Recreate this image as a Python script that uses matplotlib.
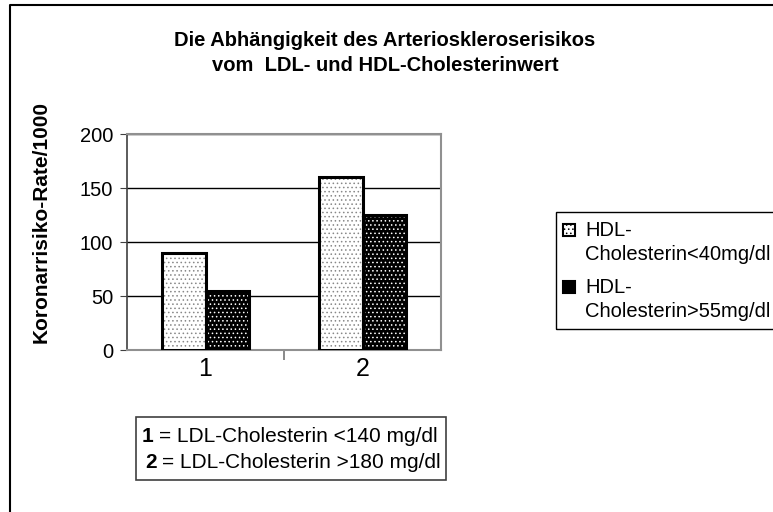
import matplotlib
matplotlib.use("Agg")
import matplotlib.pyplot as plt
from matplotlib.patches import Rectangle
from matplotlib.lines import Line2D

plt.rcParams['font.family'] = ['Liberation Sans', 'DejaVu Sans']
plt.rcParams['hatch.linewidth'] = 0.6

categories = [1, 2]
cat_labels = ['1', '2']
series_names = ['HDL-\nCholesterin<40mg/dl', 'HDL-\nCholesterin>55mg/dl']
low_hdl = [90, 160]
high_hdl = [55, 125]
yticks = [0, 50, 100, 150, 200]
title = 'Die Abhängigkeit des Arterioskleroserisikos\nvom  LDL- und HDL-Cholesterinwert'
ylabel = 'Koronarrisiko-Rate/1000'
note_digits = ['1', '2']
note_texts = ['= LDL-Cholesterin <140 mg/dl', '= LDL-Cholesterin >180 mg/dl']

W, H = 773, 512
fig = plt.figure(figsize=(W / 100, H / 100), dpi=100)
ax = fig.add_axes([127 / W, 1 - 350 / H, 314 / W, 216 / H])

width = 0.28
styles = [('white', '#888888', '....'), ('black', 'white', '....')]
for i, vals in enumerate([low_hdl, high_hdl]):
    xs = [c + (i - 0.5) * width for c in categories]
    face, hcol, hatch = styles[i]
    ax.bar(xs, vals, width, color=face, linewidth=0, zorder=3)
    ax.bar(xs, vals, width, fill=False, hatch=hatch, edgecolor=hcol, linewidth=0, zorder=3.2)
    ax.bar(xs, vals, width, fill=False, edgecolor='black', linewidth=2.2, zorder=3.4)

ax.set_xlim(0.5, 2.5)
ax.set_ylim(0, 200)
ax.set_yticks(yticks)
ax.yaxis.grid(True, color='black', linewidth=1)
ax.set_axisbelow(True)
ax.set_xticks(categories)
ax.set_xticklabels(cat_labels)
ax.set_xticks([1.5], minor=True)
ax.tick_params(axis='x', which='major', length=0, labelsize=18, pad=5)
ax.tick_params(axis='x', which='minor', length=7, color='#808080', width=1.3)
ax.tick_params(axis='y', direction='out', length=5, labelsize=14.5, color='#404040', pad=5)
for side in ['top', 'right', 'bottom']:
    ax.spines[side].set_color('#909090')
    ax.spines[side].set_linewidth(1.5)
ax.spines['left'].set_color('#404040')
ax.spines['left'].set_linewidth(1.2)

fig.text(385 / W, 1 - 53 / H, title, ha='center', va='center', fontsize=14.5,
         fontweight='bold', linespacing=1.45)
fig.text(41 / W, 1 - 222 / H, ylabel, rotation=90, ha='center', va='center',
         fontsize=15, fontweight='bold')

# legend box, built by hand so the swatches sit on the first label line
fig.patches.append(Rectangle((556 / W, 1 - 329 / H), 230 / W, 117 / H,
                             transform=fig.transFigure, fill=False,
                             edgecolor='black', linewidth=1, clip_on=False))
leg_styles = [('white', '....'), ('black', None)]
for k, name in enumerate(series_names):
    top = 224 + 57 * k
    face, hatch = leg_styles[k]
    fig.patches.append(Rectangle((563 / W, 1 - (top + 12) / H), 12 / W, 12 / H,
                                 transform=fig.transFigure, facecolor=face,
                                 edgecolor='black', linewidth=1.5, hatch=hatch))
    fig.text(585 / W, 1 - (top - 3) / H, name, ha='left', va='top',
             fontsize=14.5, linespacing=1.35)

fig.patches.append(Rectangle((136 / W, 1 - 480 / H), 310 / W, 63 / H,
                             transform=fig.transFigure, fill=False,
                             edgecolor='#404040', linewidth=1.2))
for j, (d, t) in enumerate(zip(note_digits, note_texts)):
    y = 1 - (437 + 26 * j) / H
    fig.text((142 + j * 3) / W, y, d, ha='left', va='center', fontsize=15, fontweight='bold')
    fig.text((159 + j * 3) / W, y, t, ha='left', va='center', fontsize=15)

fig.lines.append(Line2D([10 / W, 10 / W, 1], [0, 1 - 5 / H, 1 - 5 / H],
                        transform=fig.transFigure, color='black', linewidth=1.5))

fig.savefig('out.png', dpi=100)
